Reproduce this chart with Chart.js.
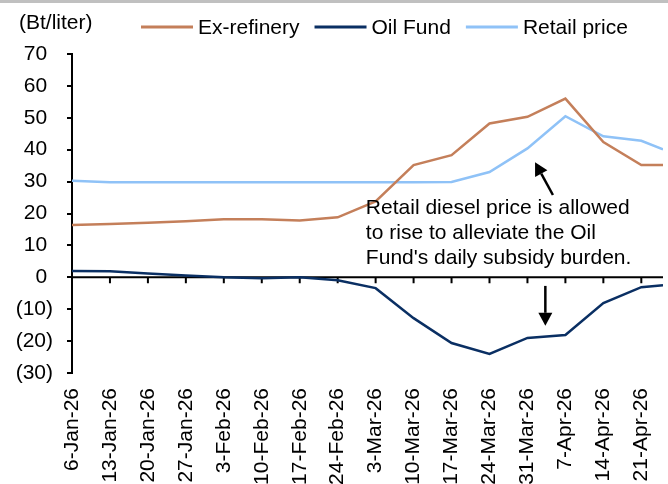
<!DOCTYPE html>
<html>
<head>
<meta charset="utf-8">
<script src="https://cdn.jsdelivr.net/npm/chart.js@4.4.1/dist/chart.umd.min.js"></script>
<style>
    body { margin: 0; background: #fff; }
    canvas { display: block; }
</style>
</head>
<body>
<canvas id="graficoDiesel" width="668" height="484"></canvas>
<script>
// weekly dates on the axis, data point days counted from 6-Jan-26
const dateLabels = ['6-Jan-26', '13-Jan-26', '20-Jan-26', '27-Jan-26', '3-Feb-26', '10-Feb-26', '17-Feb-26', '24-Feb-26',
    '3-Mar-26', '10-Mar-26', '17-Mar-26', '24-Mar-26', '31-Mar-26', '7-Apr-26', '14-Apr-26', '21-Apr-26'];
const pointDays = [0, 7, 14, 21, 28, 35, 42, 49, 56, 63, 70, 77, 84, 91, 98, 105, 109];
const exRefinery = [16.4, 16.7, 17.1, 17.6, 18.2, 18.2, 17.8, 18.8, 23.8, 35.2, 38.3, 48.2, 50.3, 56.0, 42.4, 35.2, 35.2];
const oilFund = [2.0, 1.9, 1.2, 0.6, 0.0, -0.3, 0.0, -0.9, -3.4, -12.8, -20.6, -24.0, -19.0, -18.1, -8.1, -3.1, -2.5];
const retailPrice = [30.3, 29.8, 29.8, 29.8, 29.8, 29.8, 29.8, 29.8, 29.8, 29.8, 29.9, 33.0, 40.4, 50.5, 44.2, 42.8, 40.1];
const yTickValues = [70, 60, 50, 40, 30, 20, 10, 0, -10, -20, -30];

const unitLabel = '(Bt/liter)';
const noteLines = ['Retail diesel price is allowed', 'to rise to alleviate the Oil', "Fund's daily subsidy burden."];

Chart.defaults.font.family = "'Liberation Sans', Arial, sans-serif";
Chart.defaults.font.size = 21;
Chart.defaults.color = '#000';

function toPoints(values) {
    return pointDays.map(function (d, i) { return { x: d, y: values[i] }; });
}

function drawArrow(ctx, x1, y1, x2, y2) {
    const ang = Math.atan2(y2 - y1, x2 - x1);
    const head = 13, half = 7;
    const bx = x2 - head * Math.cos(ang), by = y2 - head * Math.sin(ang);
    ctx.beginPath();
    ctx.moveTo(x1, y1);
    ctx.lineTo(bx, by);
    ctx.stroke();
    ctx.beginPath();
    ctx.moveTo(x2, y2);
    ctx.lineTo(bx + half * Math.sin(ang), by - half * Math.cos(ang));
    ctx.lineTo(bx - half * Math.sin(ang), by + half * Math.cos(ang));
    ctx.closePath();
    ctx.fill();
}

const extras = {
    id: 'extras',
    beforeDatasetsDraw: function (chart) {
        const { ctx, chartArea, scales } = chart;
        const y0 = scales.y.getPixelForValue(0);
        ctx.save();
        ctx.strokeStyle = '#000';
        ctx.lineWidth = 2;
        ctx.beginPath();
        ctx.moveTo(chartArea.left, y0);
        ctx.lineTo(chartArea.right, y0);
        scales.x.ticks.forEach(function (t) {
            const px = scales.x.getPixelForValue(t.value);
            ctx.moveTo(px, y0);
            ctx.lineTo(px, y0 + 6);
        });
        ctx.stroke();
        ctx.restore();
    },
    afterDraw: function (chart) {
        const { ctx, scales } = chart;
        ctx.save();
        // grey strip at the top
        ctx.fillStyle = '#c0c0c0';
        ctx.fillRect(0, 0, chart.width, 3);

        ctx.fillStyle = '#000';
        ctx.font = "21px 'Liberation Sans', Arial, sans-serif";
        ctx.textBaseline = 'alphabetic';
        ctx.textAlign = 'left';
        ctx.fillText(unitLabel, 19, 29);

        // legend
        let lx = 141;
        chart.data.datasets.forEach(function (ds) {
            ctx.strokeStyle = ds.borderColor;
            ctx.lineWidth = 3;
            ctx.beginPath();
            ctx.moveTo(lx, 27);
            ctx.lineTo(lx + 52, 27);
            ctx.stroke();
            ctx.fillStyle = '#000';
            ctx.fillText(ds.label, lx + 57, 34);
            lx += 57 + ctx.measureText(ds.label).width + 15;
        });

        // note and arrows
        const tx = scales.x.getPixelForValue(54.2);
        const ty = scales.y.getPixelForValue(19.8);
        noteLines.forEach(function (line, i) {
            ctx.fillText(line, tx, ty + i * 25);
        });
        ctx.strokeStyle = '#000';
        ctx.fillStyle = '#000';
        ctx.lineWidth = 2.5;
        drawArrow(ctx, scales.x.getPixelForValue(88.7), scales.y.getPixelForValue(25.8),
            scales.x.getPixelForValue(85.4), scales.y.getPixelForValue(36.1));
        drawArrow(ctx, scales.x.getPixelForValue(87.3), scales.y.getPixelForValue(-2.7),
            scales.x.getPixelForValue(87.3), scales.y.getPixelForValue(-15.2));
        ctx.restore();
    }
};

const ctxDiesel = document.getElementById('graficoDiesel').getContext('2d');
const graficoDiesel = new Chart(ctxDiesel, {
    type: 'line',
    data: {
        datasets: [{
            label: 'Ex-refinery',
            data: toPoints(exRefinery),
            borderColor: '#c47f5a',
            borderWidth: 2.5,
            pointRadius: 0,
            tension: 0
        },
        {
            label: 'Oil Fund',
            data: toPoints(oilFund),
            borderColor: '#0a2f63',
            borderWidth: 2.5,
            pointRadius: 0,
            tension: 0
        },
        {
            label: 'Retail price',
            data: toPoints(retailPrice),
            borderColor: '#8fc2f7',
            borderWidth: 2.5,
            pointRadius: 0,
            tension: 0
        }]
    },
    options: {
        responsive: false,
        animation: false,
        layout: {
            padding: { top: 54, right: 5, left: 0, bottom: 0 }
        },
        scales: {
            x: {
                type: 'linear',
                min: 0,
                max: 109,
                afterBuildTicks: function (s) {
                    s.ticks = dateLabels.map(function (_, i) { return { value: pointDays[i] }; });
                },
                afterFit: function (s) {
                    s.height = 111;
                    s.paddingLeft = 0;
                    s.paddingRight = 0;
                },
                grid: { display: false, drawTicks: false },
                border: { display: false },
                ticks: {
                    autoSkip: false,
                    minRotation: 90,
                    maxRotation: 90,
                    padding: 15,
                    callback: function (value, index) {
                        return dateLabels[index];
                    }
                }
            },
            y: {
                min: -30,
                max: 70,
                afterBuildTicks: function (s) {
                    s.ticks = yTickValues.map(function (v) { return { value: v }; });
                },
                afterFit: function (s) {
                    s.width = 72;
                },
                border: { display: true, color: '#000', width: 2 },
                grid: { drawOnChartArea: false, drawTicks: true, tickLength: 5, color: '#000', lineWidth: 2 },
                ticks: {
                    padding: 14,
                    callback: function (value) {
                        return value < 0 ? '(' + Math.abs(value) + ')' : value + ' ';
                    }
                }
            }
        },
        plugins: {
            legend: { display: false },
            tooltip: { enabled: false }
        }
    },
    plugins: [extras]
});
</script>
</body>
</html>
